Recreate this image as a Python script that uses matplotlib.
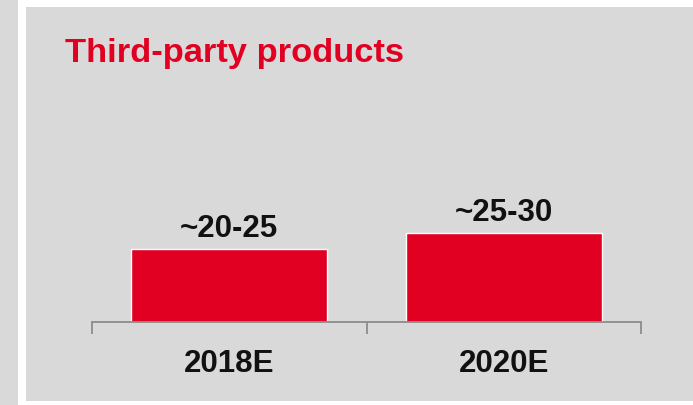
import matplotlib
matplotlib.use("Agg")
import matplotlib.pyplot as plt
from matplotlib.patches import Rectangle

# Data
categories = ["2018E", "2020E"]
values = [22.5, 27.5]          # midpoints of the stated ranges
value_labels = ["~20-25", "~25-30"]
title = "Third-party products"

RED = "#e10022"
GREY_BG = "#d9d9d9"
TEXT = "#111111"
AXIS = "#8c8c8c"

W, H = 693, 406
plt.rcParams["font.family"] = ["Liberation Sans", "DejaVu Sans"]
fig = plt.figure(figsize=(W / 100, H / 100), dpi=100, facecolor=GREY_BG)

def fx(px):
    return px / W

def fy(py):
    return 1 - py / H

# White frame with a grey panel inside
fig.add_artist(Rectangle((fx(18), 0), 1, 1, transform=fig.transFigure,
                         facecolor="white", edgecolor="none", zorder=-3))
fig.add_artist(Rectangle((fx(26), fy(402)), 1, fy(8) - fy(402),
                         transform=fig.transFigure, facecolor=GREY_BG,
                         edgecolor="none", zorder=-2))

fig.text(fx(65), fy(61.7), title, color=RED, fontsize=24.8,
         fontweight="bold", va="baseline", ha="left")

# Axes: baseline at y=322 px, spanning x 92..641 px
ymax = 40
px_per_unit = 3.236
top_px = 322.5 - ymax * px_per_unit
ax = fig.add_axes([fx(92), fy(322.5), fx(641) - fx(92), fy(top_px) - fy(322.5)])
ax.set_facecolor("none")
ax.set_xlim(-0.5, 1.5)
ax.set_ylim(0, ymax)

x = list(range(len(categories)))
bars = ax.bar(x, values, width=0.714, color=RED, edgecolor="white",
              linewidth=1.0, zorder=2)

for rect, lab in zip(bars, value_labels):
    ax.annotate(lab, (rect.get_x() + rect.get_width() / 2, rect.get_height()),
                xytext=(0, 4.0), textcoords="offset points",
                ha="center", va="bottom", fontsize=22.5, fontweight="bold",
                color=TEXT)

for s in ["top", "left", "right"]:
    ax.spines[s].set_visible(False)
ax.spines["bottom"].set_color(AXIS)
ax.spines["bottom"].set_linewidth(1.3)
ax.spines["bottom"].set_zorder(3)

ax.set_yticks([])
ax.set_xticks([-0.5, 0.5, 1.5])
ax.set_xticklabels([])
ax.tick_params(axis="x", which="major", direction="out", length=8.6,
               width=1.3, color=AXIS)
ax.set_xticks(x, minor=True)
ax.set_xticklabels(categories, minor=True, fontsize=22.5, fontweight="bold",
                   color=TEXT)
ax.tick_params(axis="x", which="minor", length=0, pad=19)

fig.savefig("out.png", dpi=100, facecolor=GREY_BG)
